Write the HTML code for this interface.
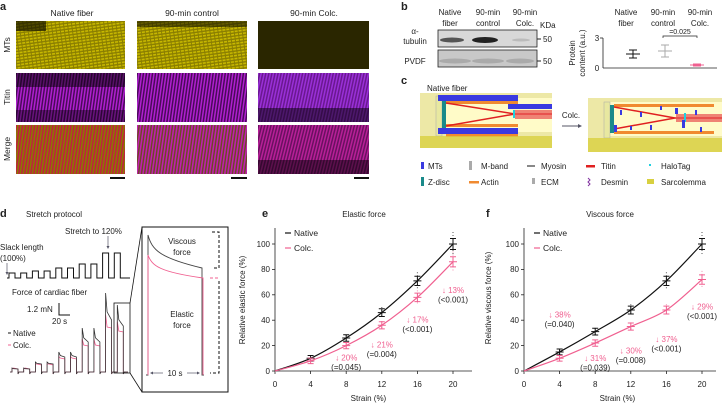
<!DOCTYPE html>
<html><head><meta charset="utf-8"><style>
html,body{margin:0;padding:0;background:#fff;}
svg{display:block;font-family:"Liberation Sans",sans-serif;}
text{fill:#222;}
</style></head><body>
<svg id="fig" width="722" height="404" viewBox="0 0 722 404" xmlns="http://www.w3.org/2000/svg">
<defs>
<pattern id="yel" width="4" height="3" patternUnits="userSpaceOnUse" patternTransform="rotate(-8)"><rect width="4" height="3" fill="#8a7e00"/><rect width="3" height="1.6" fill="#c8b800"/></pattern>
<pattern id="mag" width="3" height="8" patternUnits="userSpaceOnUse" patternTransform="rotate(8)"><rect width="3" height="8" fill="#4a0a5a"/><rect width="1.5" height="8" fill="#b020d0"/></pattern>
<pattern id="mag2" width="3" height="8" patternUnits="userSpaceOnUse" patternTransform="rotate(12)"><rect width="3" height="8" fill="#6a1890"/><rect width="1.5" height="8" fill="#9a30d8"/></pattern>
<pattern id="mer" width="3" height="6" patternUnits="userSpaceOnUse" patternTransform="rotate(8)"><rect width="3" height="6" fill="#8a7a00"/><rect width="1.5" height="6" fill="#c02040"/></pattern>
<pattern id="mer2" width="3" height="6" patternUnits="userSpaceOnUse" patternTransform="rotate(8)"><rect width="3" height="6" fill="#6a4a20"/><rect width="1.6" height="6" fill="#c020b0"/></pattern>
<pattern id="mer3" width="3" height="8" patternUnits="userSpaceOnUse" patternTransform="rotate(14)"><rect width="3" height="8" fill="#6a1060"/><rect width="1.5" height="8" fill="#b82098"/></pattern>
</defs>

<!-- Panel a -->
<g font-size="8.5">
<text x="0" y="10" font-weight="bold" font-size="11">a</text>
<text x="72" y="16" text-anchor="middle">Native fiber</text>
<text x="192" y="16" text-anchor="middle">90-min control</text>
<text x="314" y="16" text-anchor="middle">90-min Colc.</text>
<text transform="translate(10,45) rotate(-90)" text-anchor="middle">MTs</text>
<text transform="translate(10,97) rotate(-90)" text-anchor="middle">Titin</text>
<text transform="translate(10,149) rotate(-90)" text-anchor="middle">Merge</text>
<rect x="16" y="21" width="109" height="48" fill="url(#yel)"/>
<rect x="137" y="21" width="110" height="48" fill="url(#yel)"/>
<rect x="258" y="21" width="111" height="48" fill="#2a2600"/>
<rect x="16" y="21" width="30" height="10" fill="#000" opacity="0.6"/>
<rect x="137" y="21" width="110" height="6" fill="#000" opacity="0.5"/>
<rect x="16" y="73" width="109" height="49" fill="url(#mag)"/>
<rect x="137" y="73" width="110" height="49" fill="url(#mag)"/>
<rect x="258" y="73" width="111" height="49" fill="url(#mag2)"/>
<rect x="16" y="125" width="109" height="49" fill="url(#mer)"/>
<rect x="137" y="125" width="110" height="49" fill="url(#mer2)"/>
<rect x="258" y="125" width="111" height="49" fill="url(#mer3)"/>
<rect x="16" y="73" width="109" height="14" fill="#000" opacity="0.5"/>
<rect x="16" y="110" width="109" height="12" fill="#000" opacity="0.4"/>
<rect x="258" y="108" width="111" height="14" fill="#000" opacity="0.5"/>
<rect x="258" y="160" width="111" height="14" fill="#000" opacity="0.5"/>
<g stroke="#111" stroke-width="2">
<line x1="110" y1="178" x2="125" y2="178"/><line x1="231" y1="178" x2="247" y2="178"/><line x1="354" y1="178" x2="369" y2="178"/></g>
</g>

<!-- Panel b -->
<g font-size="8">
<text x="401" y="10" font-weight="bold" font-size="11">b</text>
<text x="450" y="15" text-anchor="middle">Native</text><text x="450" y="26" text-anchor="middle">fiber</text>
<text x="488" y="15" text-anchor="middle">90-min</text><text x="488" y="26" text-anchor="middle">control</text>
<text x="525" y="15" text-anchor="middle">90-min</text><text x="525" y="26" text-anchor="middle">Colc.</text>
<text x="540" y="28">KDa</text>
<text x="415" y="34" text-anchor="middle">α-</text><text x="415" y="44" text-anchor="middle">tubulin</text>
<text x="415" y="64" text-anchor="middle">PVDF</text>
<rect x="438" y="30" width="99" height="17" fill="#d8d8d8" stroke="#222" stroke-width="0.8"/>
<ellipse cx="452" cy="40" rx="12" ry="2.5" fill="#555"/><ellipse cx="485" cy="40" rx="13" ry="3" fill="#222"/><ellipse cx="521" cy="40" rx="9" ry="1.5" fill="#bbb"/>
<rect x="438" y="50" width="99" height="17" fill="#c8c8c8" stroke="#222" stroke-width="0.8"/>
<ellipse cx="455" cy="61" rx="16" ry="2.5" fill="#aaa"/><ellipse cx="488" cy="61" rx="16" ry="2.5" fill="#aaa"/><ellipse cx="520" cy="61" rx="14" ry="2.5" fill="#aaa"/>
<line x1="537" y1="39" x2="541" y2="39" stroke="#222"/><text x="543" y="42">50</text>
<line x1="537" y1="61" x2="541" y2="61" stroke="#222"/><text x="543" y="64">50</text>
<text x="626" y="15" text-anchor="middle">Native</text><text x="626" y="26" text-anchor="middle">fiber</text>
<text x="663" y="15" text-anchor="middle">90-min</text><text x="663" y="26" text-anchor="middle">control</text>
<text x="700" y="15" text-anchor="middle">90-min</text><text x="700" y="26" text-anchor="middle">Colc.</text>
<text transform="translate(575,53) rotate(-90)" text-anchor="middle">Protein</text>
<text transform="translate(585,53) rotate(-90)" text-anchor="middle">content (a.u.)</text>
<text x="597" y="41" text-anchor="middle">3</text><text x="597" y="71" text-anchor="middle">0</text>
<g id="bplot"></g>
<path d="M663,38 V36 H697 V38" fill="none" stroke="#222" stroke-width="0.7"/>
<text x="680" y="34" text-anchor="middle" font-size="7">=0.025</text>
</g>

<!-- Panel c -->
<g font-size="8">
<text x="401" y="84" font-weight="bold" font-size="11">c</text>
<text x="427" y="91">Native fiber</text>
<g>
<rect x="420" y="93" width="132" height="55" fill="#e8e290" opacity="0.8"/>
<rect x="436" y="98" width="116" height="34" fill="#fffbc8"/>
<rect x="436" y="96" width="6" height="40" fill="#e8e8a0" stroke="#aaa" stroke-width="0.5"/>
<rect x="442" y="99" width="4" height="31" fill="#1a8a8a"/>
<rect x="438" y="95" width="80" height="6" fill="#3a3ae0"/>
<rect x="438" y="128" width="80" height="6" fill="#3a3ae0"/>
<rect x="508" y="104" width="44" height="5" fill="#3a3ae0"/>
<rect x="446" y="101" width="72" height="3" fill="#f08a30"/>
<rect x="446" y="124" width="72" height="3" fill="#f08a30"/>
<rect x="446" y="134" width="72" height="3" fill="#f08a30"/>
<path d="M446,103 L515,114 M446,126 L515,114 L552,114" stroke="#e02020" stroke-width="1.5" fill="none"/>
<rect x="515" y="110" width="37" height="9" fill="#e85050" opacity="0.7"/>
<rect x="513" y="110" width="2" height="8" fill="#20d0e0"/>
<rect x="420" y="136" width="132" height="12" fill="#d8d040" opacity="0.8"/>
</g>
<line x1="562" y1="126" x2="580" y2="126" stroke="#556" stroke-width="1"/><path d="M582,126 l-4,-2 v4z" fill="#556"/>
<text x="571" y="118" text-anchor="middle">Colc.</text>
<g>
<rect x="588" y="98" width="134" height="54" fill="#e8e290" opacity="0.8"/>
<rect x="604" y="102" width="118" height="34" fill="#fffbc8"/>
<rect x="604" y="102" width="6" height="36" fill="#e8e8a0" stroke="#aaa" stroke-width="0.5"/>
<rect x="610" y="105" width="4" height="28" fill="#1a8a8a"/>
<rect x="614" y="104" width="100" height="3" fill="#f08a30"/>
<rect x="614" y="131" width="100" height="3" fill="#f08a30"/>
<path d="M614,107 L675,118 M614,129 L675,118 L722,118" stroke="#e02020" stroke-width="1.5" fill="none"/>
<rect x="676" y="114" width="46" height="8" fill="#e85050" opacity="0.7"/>
<rect x="684" y="113" width="2" height="9" fill="#20d0e0"/>
<g fill="#3a3ae0"><rect x="620" y="110" width="2" height="5"/><rect x="640" y="112" width="2" height="5"/><rect x="660" y="106" width="2" height="4"/><rect x="675" y="108" width="3" height="6"/><rect x="682" y="120" width="3" height="8"/><rect x="695" y="110" width="2" height="5"/><rect x="650" y="125" width="2" height="5"/><rect x="630" y="126" width="2" height="4"/><rect x="614" y="125" width="3" height="7"/><rect x="700" y="127" width="2" height="5"/></g>
<rect x="588" y="138" width="134" height="14" fill="#d8d040" opacity="0.8"/>
</g>
<g>
<rect x="421" y="162" width="3" height="7" fill="#3a3ae0"/><text x="428" y="169">MTs</text>
<rect x="469" y="161" width="3" height="9" fill="#aaa"/><text x="481" y="169">M-band</text>
<rect x="527" y="165" width="8" height="2" fill="#888"/><text x="541" y="169">Myosin</text>
<rect x="586" y="165" width="9" height="2.5" fill="#e02020"/><text x="601" y="169">Titin</text>
<rect x="649" y="164" width="2" height="2" fill="#20d0e0"/><text x="661" y="169">HaloTag</text>
<rect x="421" y="177" width="3" height="9" fill="#1a8a8a"/><text x="428" y="185">Z-disc</text>
<rect x="469" y="181" width="10" height="2.5" fill="#f08a30"/><text x="481" y="185">Actin</text>
<rect x="532" y="178" width="3" height="6" fill="#aaa"/><text x="541" y="185">ECM</text>
<path d="M588,178 l2,2 l-2,2 l2,2 l-2,2" stroke="#8030a0" fill="none"/><text x="601" y="185">Desmin</text>
<rect x="647" y="179" width="7" height="5" fill="#d8d040"/><text x="661" y="185">Sarcolemma</text>
</g>
</g>

<!-- Panel d -->
<g font-size="8">
<text x="0" y="217" font-weight="bold" font-size="11">d</text>
<text x="26" y="217">Stretch protocol</text>
<text x="65" y="234">Stretch to 120%</text>
<line x1="108" y1="236" x2="108" y2="247" stroke="#556" stroke-width="0.7"/><path d="M108,249 l-1.5,-3 h3z" fill="#556"/>
<text x="0" y="250">Slack length</text><text x="0" y="261">(100%)</text>
<line x1="7" y1="263" x2="7" y2="273" stroke="#556" stroke-width="0.7"/><path d="M7,275 l-1.5,-3 h3z" fill="#556"/>
<path id="wave" fill="none" stroke="#111" stroke-width="1"/>
<text x="12" y="295">Force of cardiac fiber</text>
<text x="27" y="312">1.2 mN</text>
<path d="M59,303 V315 H70" fill="none" stroke="#111" stroke-width="1"/>
<text x="52" y="324">20 s</text>
<line x1="8" y1="333" x2="11" y2="333" stroke="#111"/><text x="13" y="336">Native</text>
<line x1="8" y1="345" x2="11" y2="345" stroke="#f06090"/><text x="13" y="348">Colc.</text>
<g id="traces"></g>
<rect x="114" y="303" width="16" height="70" fill="none" stroke="#111" stroke-width="0.8"/>
<line x1="130" y1="303" x2="142" y2="227" stroke="#111" stroke-width="0.8"/>
<line x1="130" y1="373" x2="142" y2="392" stroke="#111" stroke-width="0.8"/>
<rect x="142" y="227" width="86" height="165" fill="none" stroke="#111" stroke-width="1"/>
<path d="M146,375 H148 V235 C152,250 160,258 202,268 V375 H204" fill="none" stroke="#444" stroke-width="0.9"/>
<path d="M148,375 V255 C152,266 160,272 203,278 V375" fill="none" stroke="#f06090" stroke-width="0.9"/>
<text x="182" y="244" text-anchor="middle">Viscous</text><text x="182" y="255" text-anchor="middle">force</text>
<text x="182" y="317" text-anchor="middle">Elastic</text><text x="182" y="328" text-anchor="middle">force</text>
<line x1="152" y1="373" x2="163" y2="373" stroke="#556" stroke-width="0.7"/><path d="M150,373 l3,-1.5 v3z" fill="#556"/>
<line x1="187" y1="373" x2="198" y2="373" stroke="#556" stroke-width="0.7"/><path d="M200,373 l-3,-1.5 v3z" fill="#556"/>
<text x="175" y="376" text-anchor="middle">10 s</text>
<path d="M212,232 H219 V268 H212" fill="none" stroke="#111" stroke-dasharray="3,2"/>
<line x1="210" y1="278" x2="219" y2="278" stroke="#f06090" stroke-dasharray="3,2"/>
<path d="M219,281 V373 H210" fill="none" stroke="#111" stroke-dasharray="3,2"/>
<text transform="translate(245,300) rotate(-90)" text-anchor="middle">Relative elastic force (%)</text>
</g>

<!-- Panels e & f -->
<g font-size="8">
<text x="262" y="217" font-weight="bold" font-size="11">e</text>
<text x="364" y="217" text-anchor="middle">Elastic force</text>
<g id="chartE"></g>
</g>
<g font-size="8">
<text x="486" y="217" font-weight="bold" font-size="11">f</text>
<text x="610" y="217" text-anchor="middle">Viscous force</text>
<text transform="translate(491,298) rotate(-90)" text-anchor="middle">Relative viscous force (%)</text>
<g id="chartF"></g>
</g>
</svg>
<script>
// ---- data ----
const strains = [4, 8, 12, 16, 20];
const xTicks = [0, 4, 8, 12, 16, 20];
const yTicks = [0, 20, 40, 60, 80, 100];
const elasticNative = [10, 26, 46, 71, 100];
const elasticColc = [8, 20, 36, 58, 86];
const elasticDrop = ['↓ 20%', '↓ 21%', '↓ 17%', '↓ 13%'];
const elasticP = ['(=0.045)', '(=0.004)', '(<0.001)', '(<0.001)'];
const viscousNative = [15, 31, 48, 71, 100];
const viscousColc = [10, 22, 35, 48, 72];
const viscousDrop = ['↓ 38%', '↓ 31%', '↓ 30%', '↓ 37%', '↓ 29%'];
const viscousP = ['(=0.040)', '(=0.039)', '(=0.008)', '(<0.001)', '(<0.001)'];
const proteinGroups = ['Native fiber', '90-min control', '90-min Colc.'];
const proteinMeans = [1.4, 1.7, 0.3];
const proteinSD = [0.4, 0.6, 0.1];
const stretchLevels = [5, 5, 7, 7, 10, 10, 14, 14, 25, 25];
const nativePeaks = [4, 4, 10, 10, 20, 20, 44, 44, 79, 67];
const nativePlateaus = [3, 3, 8, 8, 15, 15, 30, 30, 52, 46];
const colcPlateaus = [3, 3, 7, 7, 13, 13, 26, 26, 44, 40];

const NS = 'http://www.w3.org/2000/svg';
function mk(parent, tag, attrs, txt) {
  const e = document.createElementNS(NS, tag);
  for (const k in attrs) e.setAttribute(k, attrs[k]);
  if (txt !== undefined) e.textContent = txt;
  parent.appendChild(e);
  return e;
}
const PINK = '#f06090';

// ---- panel b scatter ----
(function () {
  const g = document.getElementById('bplot');
  const yS = v => 68 - v / 3 * 30;
  const xs = [633, 665, 697];
  const cols = ['#111', '#aaa', PINK];
  mk(g, 'line', { x1: 603, y1: 38, x2: 603, y2: 68, stroke: '#222', 'stroke-width': 0.8 });
  mk(g, 'line', { x1: 600, y1: 38, x2: 603, y2: 38, stroke: '#222', 'stroke-width': 0.8 });
  mk(g, 'line', { x1: 603, y1: 68, x2: 717, y2: 68, stroke: '#222', 'stroke-width': 0.8 });
  proteinMeans.forEach((m, i) => {
    const mark = mk(g, 'path', { d: `M${xs[i] - 7},${yS(m)} h14 M${xs[i]},${yS(m + proteinSD[i])} V${yS(m - proteinSD[i])} M${xs[i] - 4},${yS(m + proteinSD[i])} h8 M${xs[i] - 4},${yS(m - proteinSD[i])} h8`, stroke: cols[i], fill: 'none', 'stroke-width': 1 });
    
    
  });
})();

// ---- panel d traces ----
(function () {
  const base = 278, x0 = 9, period = 11.7, w = 6;
  let d = `M${x0 - 2},${base}`;
  stretchLevels.forEach((h, i) => {
    const x = x0 + i * period;
    d += ` H${x} V${base - h} H${x + w} V${base}`;
  });
  d += ` H${x0 + stretchLevels.length * period + 4}`;
  document.getElementById('wave').setAttribute('d', d);
  const g = document.getElementById('traces');
  const fb = 372;
  let dn = `M10,${fb}`, dc = `M10,${fb}`;
  nativePeaks.forEach((p, i) => {
    const x = x0 + 3 + i * period;
    dn += ` H${x} V${fb - p} L${x + 1.5},${fb - nativePlateaus[i] - (p - nativePlateaus[i]) * 0.3} L${x + w},${fb - nativePlateaus[i]} V${fb + 2} L${x + w + 1},${fb}`;
    dc += ` H${x} V${fb - colcPlateaus[i] - (p - nativePlateaus[i]) * 0.5} L${x + 1.5},${fb - colcPlateaus[i] - 1} L${x + w},${fb - colcPlateaus[i]} V${fb + 2} L${x + w + 1},${fb}`;
  });
  dn += ' H128'; dc += ' H128';
  const pc = mk(g, 'path', { d: dc, fill: 'none', stroke: PINK, 'stroke-width': 0.8 });
  
  
  const pn = mk(g, 'path', { d: dn, fill: 'none', stroke: '#333', 'stroke-width': 0.8 });
  
  
})();

// ---- line charts e/f ----
function chart(id, x0, xEnd, native, colc, drops, ps, dropStart, labelShift) {
  const g = document.getElementById(id);
  const xS = v => x0 + v * 8.9;
  const yS = v => 371 - v * 1.27;
  mk(g, 'line', { x1: x0, y1: 228, x2: x0, y2: 371, stroke: '#222', 'stroke-width': 0.8 });
  mk(g, 'line', { x1: x0, y1: 371, x2: xEnd, y2: 371, stroke: '#222', 'stroke-width': 0.8 });
  yTicks.forEach(t => {
    mk(g, 'line', { x1: x0 - 3, y1: yS(t), x2: x0, y2: yS(t), stroke: '#222', 'stroke-width': 0.8 });
    const tl = mk(g, 'text', { x: x0 - 5, y: yS(t) + 2.8, 'text-anchor': 'end' }, String(t));
    
    
  });
  xTicks.forEach(t => {
    mk(g, 'line', { x1: xS(t), y1: 371, x2: xS(t), y2: 374, stroke: '#222', 'stroke-width': 0.8 });
    const tl = mk(g, 'text', { x: xS(t), y: 387, 'text-anchor': 'middle' }, String(t));
    
    
  });
  const xt = mk(g, 'text', { x: xS(10.5), y: 401, 'text-anchor': 'middle' }, 'Strain (%)');
  
  
  function curve(vals, col, name) {
    const pts = [[0, 0]].concat(strains.map((s, i) => [s, vals[i]]));
    let d = `M${xS(0)},${yS(0)}`;
    for (let i = 0; i < pts.length - 1; i++) {
      const p0 = pts[Math.max(0, i - 1)], p1 = pts[i], p2 = pts[i + 1], p3 = pts[Math.min(pts.length - 1, i + 2)];
      const c1 = [p1[0] + (p2[0] - p0[0]) / 6, p1[1] + (p2[1] - p0[1]) / 6];
      const c2 = [p2[0] - (p3[0] - p1[0]) / 6, p2[1] - (p3[1] - p1[1]) / 6];
      d += ` C${xS(c1[0])},${yS(c1[1])} ${xS(c2[0])},${yS(c2[1])} ${xS(p2[0])},${yS(p2[1])}`;
    }
    const line = mk(g, 'path', { d, fill: 'none', stroke: col, 'stroke-width': 1.2 });
    
    
    strains.forEach((s, i) => {
      const x = xS(s), y = yS(vals[i]), e = 2.5 + vals[i] * 0.03;
      const m = mk(g, 'path', { d: `M${x - 4},${y} h8 M${x},${y - e} V${y + e} M${x - 3},${y - e} h6 M${x - 3},${y + e} h6`, stroke: col, fill: 'none', 'stroke-width': 1 });
      
      
      const dots = mk(g, 'line', { x1: x, y1: y - vals[i] * 0.12, x2: x, y2: y + vals[i] * 0.12, stroke: col, 'stroke-width': 1, 'stroke-dasharray': '1,2', opacity: 0.7 });
      
      
    });
  }
  curve(native, '#111', 'native');
  curve(colc, PINK, 'colc');
  const lx = x0 + 10;
  mk(g, 'line', { x1: lx, y1: 233, x2: lx + 6, y2: 233, stroke: '#111', 'stroke-width': 1.2 });
  const l1 = mk(g, 'text', { x: lx + 9, y: 236, 'font-size': 8.5 }, 'Native');
  
  
  mk(g, 'line', { x1: lx, y1: 248, x2: lx + 6, y2: 248, stroke: PINK, 'stroke-width': 1.2 });
  const l2 = mk(g, 'text', { x: lx + 9, y: 251, 'font-size': 8.5 }, 'Colc.');
  
  
  drops.forEach((t, k) => {
    const i = k + dropStart;
    const x = xS(strains[i]);
    const yLow = yS(colc[i]) + labelShift[k];
    const a = mk(g, 'text', { x, y: yLow, 'text-anchor': 'middle', style: 'fill:' + PINK }, t);
    
    
    const b = mk(g, 'text', { x, y: yLow + 9.5, 'text-anchor': 'middle' }, ps[k]);
    
    
  });
}
chart('chartE', 275, 472, elasticNative, elasticColc, elasticDrop, elasticP, 1, [15, 22, 25, 31]);
chart('chartF', 524, 716, viscousNative, viscousColc, viscousDrop, viscousP, 0, [-41, 18, 27, 32, 30]);
</script>
</body></html>
